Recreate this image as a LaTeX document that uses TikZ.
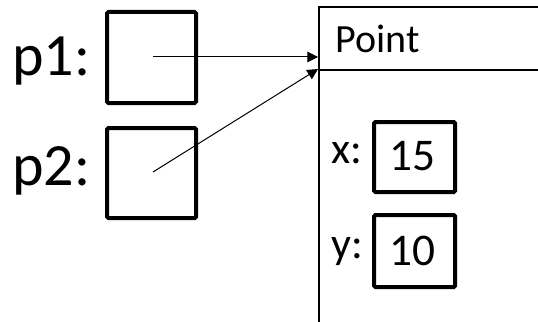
\documentclass[tikz,border=0pt]{standalone}
\usepackage{fontspec}
\setmainfont{Carlito}
\usetikzlibrary{arrows.meta}
\begin{document}
\begin{tikzpicture}[x=0.75pt,y=-0.75pt,
  varbox/.style={draw,line width=3pt,rounded corners=1pt},
  lbl/.style={inner sep=0pt,anchor=base west},
  ptr/.style={line width=0.75pt,-{Triangle[length=8pt,width=8pt]}},
  objline/.style={line width=1.1pt}]
\useasboundingbox (0,0) rectangle (538,321);
\begin{scope}
\clip (0,0) rectangle (538,321);
% Point object
\coordinate (otl) at (319,7);
\coordinate (otr) at (545,7);
\coordinate (ohl) at (319,70);
\coordinate (ohr) at (545,70);
\coordinate (obl) at (319,330);
\draw[objline] (otr) -- (otl) -- (obl);
\draw[objline] (ohl) -- (ohr);
\end{scope}
\node[lbl,font=\fontsize{30}{32}\selectfont] (ptitle) at (335,53) {Point};
% variables p1, p2
\node[lbl,font=\fontsize{45}{48}\selectfont] (p1lbl) at (12,75) {p1:};
\node[lbl,font=\fontsize{45}{48}\selectfont] (p2lbl) at (12,185) {p2:};
\draw[varbox] (107,12) rectangle (196,103);
\draw[varbox] (107,128) rectangle (196,218);
\coordinate (p1c) at (153,57);
\coordinate (p2c) at (153,172);
\coordinate (t1) at (318,57);
\coordinate (t2) at (318,69);
\draw[ptr] (p1c) -- (t1);
\draw[ptr] (p2c) -- (t2);
% fields
\node[lbl,font=\fontsize{33}{35}\selectfont] (xl) at (331,163) {x:};
\node[lbl,font=\fontsize{33}{35}\selectfont] (yl) at (331,258) {y:};
\draw[varbox] (374,122) rectangle (455,192);
\draw[varbox] (374,215) rectangle (455,287);
\node[lbl,font=\fontsize{34}{36}\selectfont] (xv) at (389,170) {15};
\node[lbl,font=\fontsize{34}{36}\selectfont] (yv) at (389,265) {10};
\end{tikzpicture}
\end{document}
